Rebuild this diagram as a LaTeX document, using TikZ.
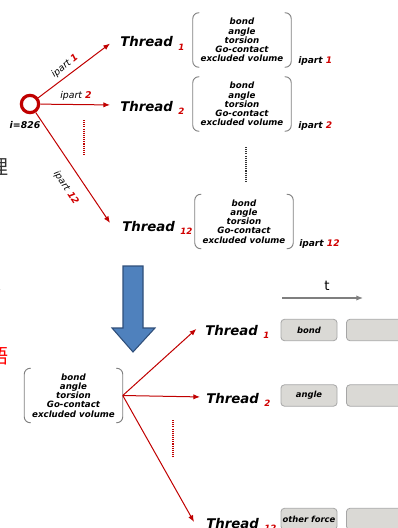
\documentclass[tikz,border=0pt]{standalone}
\usepackage{fontspec}
\setmainfont{DejaVu Sans}
\newfontfamily\cjkfont{Noto Sans CJK SC}
\usetikzlibrary{arrows.meta}

\definecolor{arrowred}{HTML}{C00000}
\definecolor{numred}{HTML}{D00000}
\definecolor{bracketgray}{HTML}{808080}
\definecolor{cellfill}{HTML}{DAD9D5}
\definecolor{celledge}{HTML}{A6A6A6}
\definecolor{bluefill}{HTML}{4F81BD}
\definecolor{blueedge}{HTML}{2F4F7A}
\definecolor{timegray}{HTML}{7F7F7F}
\definecolor{inkgray}{HTML}{333333}

\newcommand{\bi}{\bfseries\itshape}
\newcommand{\numsub}[1]{\raisebox{-2.5pt}{\fontsize{6.5}{7}\selectfont\color{numred}#1}}
\newcommand{\drawbrackets}[1]{%
  \draw[bracket] ([xshift=5pt]#1.north west) -- (#1.north west) -- (#1.south west) -- ([xshift=5pt]#1.south west);
  \draw[bracket] ([xshift=-5pt]#1.north east) -- (#1.north east) -- (#1.south east) -- ([xshift=-5pt]#1.south east);}

\tikzset{
  threadlabel/.style={inner sep=0pt, anchor=base west, font=\fontsize{10}{12}\selectfont\bi},
  forcebox/.style={inner sep=0pt, align=center, minimum width=73.5pt, minimum height=40.5pt,
    font=\fontsize{6.5}{6.9}\selectfont\bi},
  bracket/.style={draw=bracketgray, line width=0.7pt, rounded corners=4.5pt},
  fanarrow/.style={draw=arrowred, line width=0.75pt, -{Latex[length=5pt,width=4pt]}},
  arrowlabel/.style={inner sep=0pt, font=\fontsize{7}{8}\selectfont\itshape},
  partlabel/.style={inner sep=0pt, anchor=base west, font=\fontsize{6.8}{8}\selectfont\bi},
  cell/.style={draw=celledge, fill=cellfill, line width=0.6pt, rounded corners=2.5pt,
    minimum width=42pt, minimum height=16pt, inner sep=0pt, font=\fontsize{6.3}{7}\selectfont\bi},
  reddots/.style={draw=arrowred, line width=1pt, dash pattern=on 0.8pt off 0.8pt},
  greydots/.style={draw=inkgray, line width=1pt, dash pattern=on 0.8pt off 0.8pt},
  timearrow/.style={draw=timegray, line width=0.9pt, -{Latex[length=5pt,width=4pt]}},
  edgechar/.style={inner sep=0pt, font=\fontsize{15}{16}\selectfont\cjkfont},
}

\begin{document}
\begin{tikzpicture}[x=0.75pt, y=-0.75pt]
  \useasboundingbox (0,0) rectangle (397,528);

  % characters cut by the left edge
  \node[edgechar, text=inkgray] (ch1) at (-1.5,167) {理};
  \node[edgechar, text=inkgray] (ch2) at (-8,284) {求};
  \node[edgechar, text=red] (ch3) at (-2,356) {語};

  % ---------- upper part: one particle split over the threads ----------
  \node[circle, draw=arrowred, line width=2.4pt, minimum size=13pt, inner sep=0pt] (src) at (30,104) {};
  \node[inner sep=0pt, font=\fontsize{7}{8}\selectfont\bi] (iname) at (25,125) {i=826};

  \node[threadlabel] (th1) at (120,47) {Thread\hspace{4pt}\numsub{1}};
  \node[threadlabel] (th2) at (120,111) {Thread\hspace{4pt}\numsub{2}};
  \node[threadlabel] (th12) at (122,231) {Thread\hspace{4pt}\numsub{12}};

  \draw[fanarrow] (src) -- ([xshift=-7.5pt]th1.west);
  \draw[fanarrow] (src) -- ([xshift=-7.5pt,yshift=2pt]th2.west);
  \draw[fanarrow] (src) -- ([xshift=-9pt,yshift=3.5pt]th12.west);

  \node[arrowlabel, rotate=39] (lab1) at (65,66) {ipart {\bfseries\color{numred}1}};
  \node[arrowlabel] (lab2) at (76,96) {ipart {\bfseries\color{numred}2}};
  \node[arrowlabel, rotate=-57] (lab12) at (66,188) {ipart {\bfseries\color{numred}12}};

  \draw[reddots] (84,120) -- (84,155);

  \node[forcebox] (fb1) at (242,40) {bond\\angle\\torsion\\Go-contact\\excluded volume};
  \node[forcebox] (fb2) at (242,104) {bond\\angle\\torsion\\Go-contact\\excluded volume};
  \node[forcebox] (fb12) at (244,221.5) {bond\\angle\\torsion\\Go-contact\\excluded volume};
  \drawbrackets{fb1}
  \drawbrackets{fb2}
  \drawbrackets{fb12}

  \node[partlabel] (p1) at (298,64) {ipart {\color{numred}1}};
  \node[partlabel] (p2) at (298,128) {ipart {\color{numred}2}};
  \node[partlabel] (p12) at (299,246) {ipart {\color{numred}12}};

  \draw[greydots] (246,147) -- (246,182);

  % ---------- transition arrow ----------
  \draw[fill=bluefill, draw=blueedge, line width=0.8pt]
    (123,266) -- (143,266) -- (143,328) -- (155,328) -- (133,352) -- (112,328) -- (123,328) -- cycle;

  % ---------- lower part: one force kind per thread ----------
  \node[forcebox] (fb0) at (73.5,395.5) {bond\\angle\\torsion\\Go-contact\\excluded volume};
  \drawbrackets{fb0}

  \node[threadlabel] (tb1) at (205,335) {Thread\hspace{4pt}\numsub{1}};
  \node[threadlabel] (tb2) at (206,403) {Thread\hspace{4pt}\numsub{2}};
  \node[threadlabel] (tb12) at (206,528) {Thread\hspace{4pt}\numsub{12}};

  \draw[fanarrow] (fb0.east) -- ([xshift=-6.5pt,yshift=2pt]tb1.west);
  \draw[fanarrow] (fb0.east) -- ([xshift=-4.5pt,yshift=2pt]tb2.west);
  \draw[fanarrow] (fb0.east) -- ([xshift=-9pt,yshift=2pt]tb12.west);

  \draw[reddots] (173,420) -- (173,457);

  % time axis
  \node[inner sep=0pt, font=\fontsize{10}{12}\selectfont] (tlab) at (327,286) {t};
  \coordinate (tstart) at (282,298);
  \coordinate (tend) at (363,298);
  \draw[timearrow] (tstart) -- (tend);

  \node[cell] (c11) at (309,330) {bond};
  \node[cell] (c12) at (374.5,330) {};
  \node[cell] (c21) at (309,395.5) {angle};
  \node[cell] (c22) at (374.5,395.5) {};
  \node[cell] (c31) at (309,519) {other force};
  \node[cell] (c32) at (374.5,519) {};
\end{tikzpicture}
\end{document}
